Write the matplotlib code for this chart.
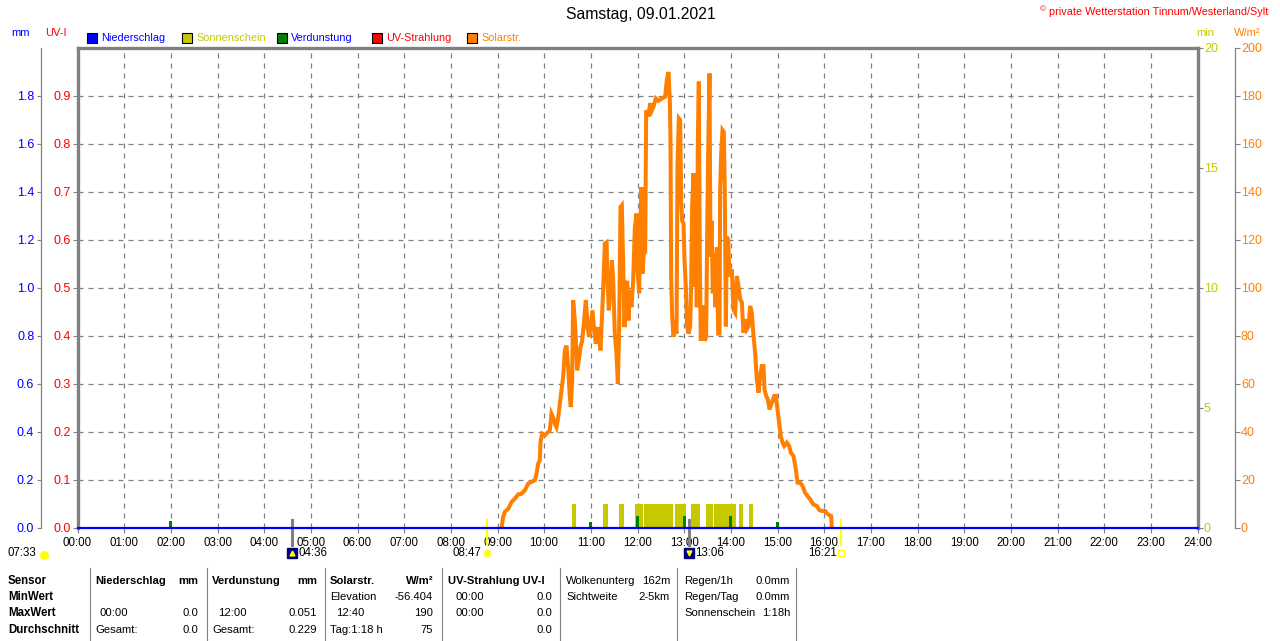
import matplotlib.pyplot as plt
import matplotlib.transforms as mtransforms
from matplotlib.patches import Rectangle
from matplotlib.lines import Line2D

plt.rcParams['font.family'] = ['Liberation Sans', 'DejaVu Sans']
plt.rcParams['font.size'] = 8

# ---- data ----
hours = list(range(25))
hour_labels = [f"{h:02d}:00" for h in hours]

# solar radiation W/m2
sol_time = [9.086, 9.121, 9.157, 9.229, 9.300, 9.371, 9.443, 9.514, 9.586, 9.657,
            9.729, 9.800, 9.836, 9.871, 9.907, 9.921, 9.957,
            10.014, 10.086, 10.121, 10.157, 10.193, 10.229, 10.264, 10.300, 10.336,
            10.371, 10.407, 10.443, 10.479, 10.514, 10.550, 10.571, 10.600, 10.621,
            10.657, 10.679, 10.707, 10.743, 10.779, 10.814, 10.850, 10.893, 10.929, 10.964,
            11.000, 11.036, 11.071, 11.107, 11.143, 11.179, 11.207, 11.236, 11.264, 11.300,
            11.336, 11.357, 11.386, 11.421, 11.450, 11.479, 11.514, 11.550, 11.579, 11.607,
            11.636, 11.664, 11.693, 11.721, 11.750, 11.779, 11.807, 11.836, 11.871, 11.907,
            11.943, 11.979,
            12.000, 12.036, 12.057, 12.086, 12.107, 12.143, 12.164, 12.186, 12.214, 12.236,
            12.271, 12.307, 12.343, 12.393, 12.450, 12.521, 12.593, 12.629, 12.664, 12.693,
            12.707, 12.721, 12.743, 12.771, 12.807, 12.836, 12.857, 12.886, 12.914, 12.936,
            12.957, 12.986,
            13.007, 13.036, 13.064, 13.093, 13.129, 13.150, 13.171, 13.200, 13.221, 13.250,
            13.271, 13.293, 13.314, 13.336, 13.357, 13.386, 13.414, 13.443, 13.471, 13.493,
            13.514, 13.543, 13.564, 13.586, 13.614, 13.643, 13.671, 13.700, 13.729, 13.757,
            13.771, 13.793, 13.821, 13.850, 13.871, 13.893, 13.914, 13.943, 13.971,
            14.021, 14.057, 14.093, 14.129, 14.164, 14.200, 14.236, 14.271, 14.307, 14.343,
            14.379, 14.414, 14.450, 14.486, 14.521, 14.557, 14.593, 14.629, 14.664, 14.700,
            14.721, 14.757, 14.793, 14.829, 14.879, 14.929, 14.964,
            15.000, 15.036, 15.071, 15.107, 15.143, 15.200, 15.250, 15.286, 15.343, 15.393,
            15.429, 15.486, 15.536, 15.593, 15.643, 15.700, 15.771, 15.843, 15.893, 15.950,
            16.021, 16.057, 16.114, 16.150, 16.164]
sol_wm2 = [0.0, 4.6, 6.7, 8.0, 10.8, 12.2, 14.0, 14.3, 15.7, 18.5,
           19.2, 19.9, 22.6, 26.8, 28.2, 35.8, 39.3,
           38.6, 40.0, 40.7, 47.6, 46.0, 43.5, 42.0, 46.0, 51.8,
           57.4, 63.0, 74.0, 76.0, 67.0, 54.6, 50.4, 61.5, 95.0,
           86.5, 78.0, 65.7, 70.0, 75.4, 78.0, 85.0, 95.0, 83.7, 79.6,
           85.0, 90.7, 82.4, 76.8, 83.7, 78.0, 74.0, 86.5, 99.0, 118.5,
           119.0, 103.0, 90.7, 100.4, 111.5, 103.0, 81.0, 72.6, 60.0, 83.7,
           133.7, 134.4, 110.0, 83.7, 99.0, 103.0, 86.5, 99.0, 92.0, 103.0,
           125.0, 131.0,
           107.5, 97.8, 124.0, 142.0, 106.0, 117.0, 114.4, 174.0, 172.8, 171.4,
           177.0, 174.0, 175.6, 179.0, 178.0, 179.0, 179.7, 186.7, 190.0, 178.0,
           161.7, 104.7, 88.0, 79.7, 83.9, 81.0, 150.6, 170.7, 170.0, 136.7,
           128.0, 127.0,
           111.7, 100.6, 84.0, 81.0, 84.0, 102.0, 134.0, 147.8, 100.6, 128.0,
           92.0, 161.7, 186.0, 109.0, 78.0, 92.0, 92.0, 78.0, 79.7, 122.8,
           156.0, 189.4, 113.0, 128.0, 97.8, 114.4, 92.0, 117.0, 81.0, 81.0,
           141.0, 156.0, 165.8, 165.0, 139.4, 84.0, 121.4, 120.0, 104.7,
           107.8, 91.0, 89.7, 105.0, 100.8, 95.3, 94.0, 81.4, 87.0, 82.8,
           84.0, 92.5, 89.7, 80.0, 73.0, 62.0, 56.4, 63.3, 67.5, 67.5,
           57.8, 55.0, 53.6, 49.4, 52.2, 55.0, 55.0,
           49.4, 43.9, 38.3, 35.6, 34.2, 35.6, 34.2, 31.4, 30.0, 24.4,
           18.9, 18.9, 17.5, 14.7, 13.3, 11.9, 9.8, 9.2, 7.5, 7.1,
           7.1, 6.1, 5.3, 5.0, 0.0]

# sunshine (min) intervals
sun_start = [10.593, 11.250, 11.607, 11.936, 12.143, 12.807, 13.157, 13.464, 13.629, 14.171, 14.379]
sun_end = [10.679, 11.364, 11.707, 12.114, 12.771, 13.036, 13.343, 13.621, 14.114, 14.250, 14.471]
sun_min = [1, 1, 1, 1, 1, 1, 1, 1, 1, 1, 1]

# evaporation mm
evap_time = [2, 11, 12, 13, 14, 15]
evap_mm = [0.030, 0.025, 0.051, 0.050, 0.048, 0.025]

# precipitation mm
rain_time = [0, 24]
rain_mm = [0.0, 0.0]

mm_ticks = [0.0, 0.2, 0.4, 0.6, 0.8, 1.0, 1.2, 1.4, 1.6, 1.8]
uv_ticks = [0.0, 0.1, 0.2, 0.3, 0.4, 0.5, 0.6, 0.7, 0.8, 0.9]
min_ticks = [0, 5, 10, 15, 20]
wm2_ticks = list(range(0, 201, 20))

# astro times below axis
moon_rise, sunrise, moon_set, sunset = 4.6, 8.783, 13.1, 16.35

GRAY = '#808080'
BLUE = '#0000ff'
RED = '#ff0000'
OLIVE = '#c8c800'
GREEN = '#008000'
ORANGE = '#ff8000'

W, H = 1280, 641
OFFSET = 37 * 0.72  # 37 px in points
YLAB = 9


def fx(x):
    return x / W


def fy(y):
    return 1 - y / H


fig = plt.figure(figsize=(12.8, 6.41), dpi=100)
ax = fig.add_axes([fx(77.5), fy(528), 1120 / W, 480 / H])
ax.set_xlim(0, 24)
ax.set_ylim(0, 1.0)
ax.set_xticks(hours)
ax.set_xticklabels(hour_labels)
ax.set_yticks(uv_ticks)
ax.set_yticklabels([f"{v:.1f}" for v in uv_ticks])
ax.grid(True, color=GRAY, ls=(0, (4, 4)), lw=0.9)
ax.tick_params(axis='x', colors=GRAY, labelcolor='black', labelsize=8.3,
               length=3.6, width=0.8, pad=3.2)
ax.tick_params(axis='y', colors=GRAY, labelcolor=RED, labelsize=YLAB,
               length=3.6, width=0.8, pad=1)
for s in ['top', 'left', 'right']:
    ax.spines[s].set_color(GRAY)
    ax.spines[s].set_linewidth(2.4)
ax.spines['bottom'].set_visible(False)

# sunshine
ax_min = ax.twinx()
ax_min.set_ylim(0, 20)
ax_min.set_yticks(min_ticks)
for s in ax_min.spines.values():
    s.set_visible(False)
ax_min.tick_params(axis='y', colors=GRAY, labelcolor=OLIVE, labelsize=YLAB,
                   length=3.6, width=0.8, pad=1)
ax_min.bar(sun_start, sun_min, width=[e - s for s, e in zip(sun_start, sun_end)],
           align='edge', color=OLIVE, lw=0)

# solar radiation
ax_sol = ax.twinx()
ax_sol.set_ylim(0, 200)
ax_sol.set_yticks(wm2_ticks)
for s in ax_sol.spines.values():
    s.set_visible(False)
ax_sol.spines['right'].set_visible(True)
ax_sol.spines['right'].set_position(('outward', OFFSET))
ax_sol.spines['right'].set_color(GRAY)
ax_sol.spines['right'].set_linewidth(0.9)
ax_sol.tick_params(axis='y', colors=GRAY, labelcolor=ORANGE, labelsize=YLAB,
                   length=3.6, width=0.8, pad=1)
ax_sol.plot(sol_time, sol_wm2, color=ORANGE, lw=2.9, solid_joinstyle='miter')

# precipitation + evaporation
ax_mm = ax.twinx()
ax_mm.set_ylim(0, 2.0)
ax_mm.yaxis.tick_left()
ax_mm.set_yticks(mm_ticks)
ax_mm.set_yticklabels([f"{v:.1f}" for v in mm_ticks])
for s in ax_mm.spines.values():
    s.set_visible(False)
ax_mm.spines['left'].set_visible(True)
ax_mm.spines['left'].set_position(('outward', OFFSET))
ax_mm.spines['left'].set_color(GRAY)
ax_mm.spines['left'].set_linewidth(0.9)
ax_mm.tick_params(axis='y', colors=GRAY, labelcolor=BLUE, labelsize=YLAB,
                  length=3, width=0.8, pad=1.5)
ax_mm.bar(evap_time, evap_mm, width=0.07, color=GREEN, lw=0)
ax_mm.plot(rain_time, rain_mm, color=BLUE, lw=1.6, clip_on=False)

# astro marks under the axis
below = mtransforms.blended_transform_factory(ax.transData, ax.transAxes)
for t, c, lw in [(moon_rise, GRAY, 2.2), (moon_set, GRAY, 2.2), (sunrise, '#ffff00', 1.6), (sunset, '#ffff00', 1.6)]:
    ax.plot([t, t], [-0.035, 0.016], color=c, lw=lw, transform=below, clip_on=False, zorder=5)


def label_at(t, dx, text, ha):
    tr = mtransforms.offset_copy(below, fig=fig, x=dx, y=-25, units='dots')
    ax.text(t, 0, text, transform=tr, ha=ha, va='center', fontsize=8.3)


def icon_at(t, **kw):
    tr = mtransforms.offset_copy(below, fig=fig, x=0, y=-25, units='dots')
    ax.plot([t], [0], transform=tr, clip_on=False, ls='none', **kw)


label_at(moon_rise, 6, "04:36", 'left')
icon_at(moon_rise, marker='s', ms=7, mfc='#000080', mec='#000080')
icon_at(moon_rise, marker='^', ms=3.5, mfc='#ffff00', mec='#ffff00')
label_at(sunrise, -6, "08:47", 'right')
icon_at(sunrise, marker='o', ms=5.5, mfc='#ffff00', mec='#ffff80')
label_at(moon_set, 6, "13:06", 'left')
icon_at(moon_set, marker='s', ms=7, mfc='#000080', mec='#000080')
icon_at(moon_set, marker='v', ms=3.5, mfc='#ffff00', mec='#ffff00')
label_at(sunset, -4, "16:21", 'right')
icon_at(sunset, marker='s', ms=4.5, mfc='white', mec='#ffff00')

fig.text(fx(8), fy(553), "07:33", ha='left', va='center', fontsize=8.3)
fig.add_artist(Line2D([fx(44)], [fy(555)], marker='o', ms=5.5, mfc='#ffff00', mec='#ffff00',
                      transform=fig.transFigure))

# header
fig.text(fx(641), fy(15), "Samstag, 09.01.2021", ha='center', va='center', fontsize=11.3)
fig.text(fx(1268), fy(12), "private Wetterstation Tinnum/Westerland/Sylt", ha='right', va='center',
         color=RED, fontsize=7.8)
fig.text(fx(1046), fy(10), "©", ha='right', va='center', color=RED, fontsize=6)

fig.text(fx(21), fy(33), "mm", ha='center', va='center', color=BLUE)
fig.text(fx(56), fy(33), "UV-I", ha='center', va='center', color=RED)
fig.text(fx(1205), fy(33), "min", ha='center', va='center', color=OLIVE)
fig.text(fx(1247), fy(33), "W/m²", ha='center', va='center', color=ORANGE)

legend_items = [("Niederschlag", BLUE, BLUE), ("Sonnenschein", OLIVE, OLIVE),
                ("Verdunstung", GREEN, BLUE), ("UV-Strahlung", RED, RED),
                ("Solarstr.", ORANGE, ORANGE)]
for i, (name, box_c, txt_c) in enumerate(legend_items):
    x0 = 87 + i * 95
    fig.add_artist(Rectangle((fx(x0), fy(43)), 10 / W, 10 / H, facecolor=box_c,
                             edgecolor='black', lw=0.8, transform=fig.transFigure))
    fig.text(fx(x0 + 14), fy(38), name, ha='left', va='center', color=txt_c, fontsize=7.8)

# bottom table
for x in [90, 207, 325, 442, 560, 677, 796]:
    fig.add_artist(Line2D([fx(x), fx(x)], [fy(568), fy(641)], color=GRAY, lw=0.8,
                          transform=fig.transFigure))

rows = [581, 597, 613, 630]
for y, name in zip(rows, ["Sensor", "MinWert", "MaxWert", "Durchschnitt"]):
    fig.text(fx(8), fy(y), name, ha='left', va='center', fontweight='bold', fontsize=8.3)

cells = [
    (95, 0, "Niederschlag", 'left', True), (198, 0, "mm", 'right', True),
    (212, 0, "Verdunstung", 'left', True), (317, 0, "mm", 'right', True),
    (330, 0, "Solarstr.", 'left', True), (433, 0, "W/m²", 'right', True),
    (448, 0, "UV-Strahlung UV-I", 'left', True),
    (566, 0, "Wolkenunterg", 'left', False), (670, 0, "162m", 'right', False),
    (684, 0, "Regen/1h", 'left', False), (790, 0, "0.0mm", 'right', False),
    (330, 1, "Elevation", 'left', False), (433, 1, "-56.404", 'right', False),
    (455, 1, "00:00", 'left', False), (552, 1, "0.0", 'right', False),
    (566, 1, "Sichtweite", 'left', False), (670, 1, "2-5km", 'right', False),
    (684, 1, "Regen/Tag", 'left', False), (790, 1, "0.0mm", 'right', False),
    (100, 2, "00:00", 'left', False), (198, 2, "0.0", 'right', False),
    (218, 2, "12:00", 'left', False), (317, 2, "0.051", 'right', False),
    (336, 2, "12:40", 'left', False), (433, 2, "190", 'right', False),
    (455, 2, "00:00", 'left', False), (552, 2, "0.0", 'right', False),
    (684, 2, "Sonnenschein", 'left', False), (790, 2, "1:18h", 'right', False),
    (95, 3, "Gesamt:", 'left', False), (198, 3, "0.0", 'right', False),
    (212, 3, "Gesamt:", 'left', False), (317, 3, "0.229", 'right', False),
    (330, 3, "Tag:1:18 h", 'left', False), (433, 3, "75", 'right', False),
    (552, 3, "0.0", 'right', False),
]
for x, r, txt, ha, bold in cells:
    fig.text(fx(x), fy(rows[r]), txt, ha=ha, va='center', fontsize=8.1,
             fontweight='bold' if bold else 'normal')

fig.savefig('out.png', dpi=100)
